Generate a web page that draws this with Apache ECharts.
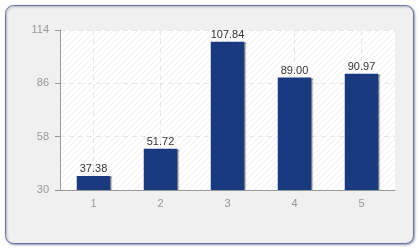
<!DOCTYPE html>
<html><head><meta charset="utf-8">
<script src="https://cdn.jsdelivr.net/npm/echarts@6/dist/echarts.min.js"></script>
<style>html,body{margin:0;padding:0;background:#fff}#c{width:420px;height:250px}</style>
</head><body><div id="c"></div>
<script>
var categories = ['1', '2', '3', '4', '5'];
var values = [37.38, 51.72, 107.84, 89.00, 90.97];
var yMin = 30, yMax = 114, yStep = 28;

function hatch() {
  var c = document.createElement('canvas');
  c.width = 6; c.height = 6;
  var g = c.getContext('2d');
  g.fillStyle = '#ffffff'; g.fillRect(0, 0, 6, 6);
  g.strokeStyle = '#efefef'; g.lineWidth = 1;
  g.beginPath();
  g.moveTo(-1, 7); g.lineTo(7, -1);
  g.moveTo(-4, 4); g.lineTo(4, -4);
  g.moveTo(2, 10); g.lineTo(10, 2);
  g.stroke();
  return c;
}

var chart = echarts.init(document.getElementById('c'), null, {renderer: 'canvas'});
chart.setOption({
  animation: false,
  backgroundColor: '#ffffff',
  textStyle: {fontFamily: 'Liberation Sans'},
  graphic: [{
    type: 'rect', z: -10, silent: true,
    shape: {x: 5.5, y: 5.5, width: 408, height: 238, r: 8},
    style: {fill: '#f0f0f0', stroke: '#6a78a6', lineWidth: 1,
      shadowColor: 'rgba(60,70,110,0.5)', shadowBlur: 2, shadowOffsetX: 1, shadowOffsetY: 1}
  }],
  grid: {left: 60, right: 25, top: 30, bottom: 60, show: true,
    backgroundColor: {image: hatch(), repeat: 'repeat'}, borderWidth: 0},
  xAxis: {
    type: 'category', data: categories,
    axisLine: {lineStyle: {color: '#999999', width: 1}},
    axisTick: {alignWithLabel: true, length: 4, lineStyle: {color: '#999999'}},
    axisLabel: {color: '#999999', fontSize: 11, margin: 8},
    splitLine: {show: true, alignWithLabel: true, lineStyle: {color: '#e6e6e6', type: [5, 4]}}
  },
  yAxis: {
    type: 'value', min: yMin, max: yMax, interval: yStep,
    axisLine: {show: true, lineStyle: {color: '#999999'}},
    axisTick: {show: true, length: 5, lineStyle: {color: '#999999'}},
    axisLabel: {color: '#999999', fontSize: 11, margin: 11},
    splitLine: {show: true, lineStyle: {color: '#e6e6e6', type: [5, 4]}}
  },
  series: [{
    type: 'bar', data: values, barWidth: '50%',
    itemStyle: {color: '#1a3a80', shadowColor: 'rgba(0,0,0,0.45)', shadowBlur: 1, shadowOffsetX: 1.5},
    label: {show: true, position: 'top', distance: 1, color: '#333333', fontSize: 11,
      formatter: function (p) { return p.value.toFixed(2); }}
  }]
});
</script></body></html>
